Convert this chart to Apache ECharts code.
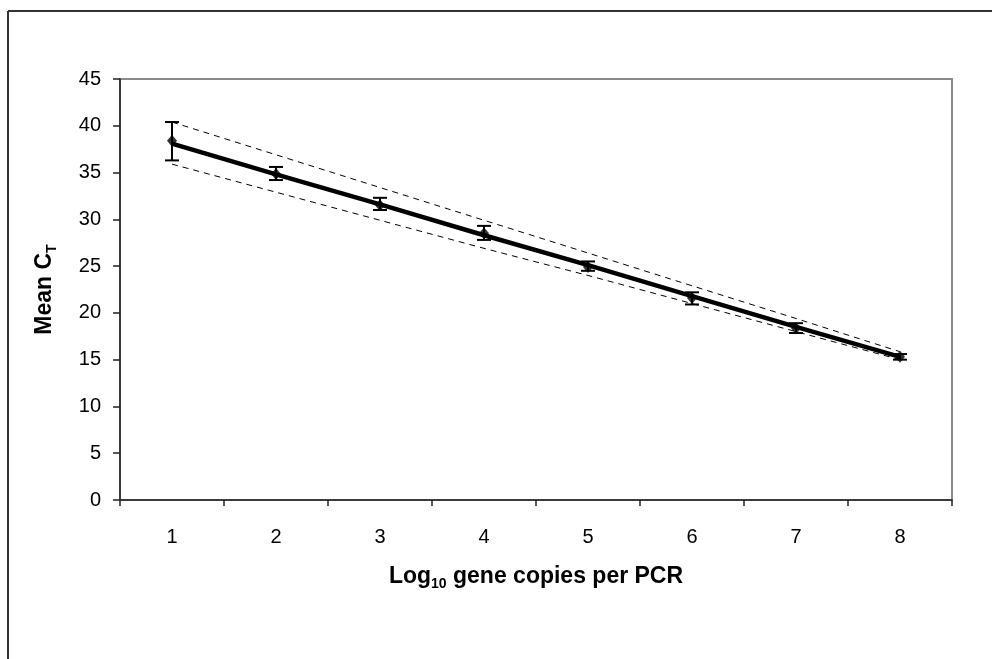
<!DOCTYPE html>
<html>
<head>
<meta charset="utf-8">
<title>Mean CT standard curve</title>
<script src="https://cdn.jsdelivr.net/npm/echarts@6/dist/echarts.min.js"></script>
<style>
  html, body { margin: 0; padding: 0; background: #fff; }
  #chart { width: 992px; height: 659px; }
</style>
</head>
<body>
<div id="chart"></div>
<script>
// data
var categories = ["1", "2", "3", "4", "5", "6", "7", "8"];
var yTicks = [0, 5, 10, 15, 20, 25, 30, 35, 40, 45];
// mean CT per dilution (diamond markers)
var meanCt = [38.4, 34.85, 31.5, 28.5, 24.9, 21.6, 18.35, 15.3];
// error bar ends
var errLow = [36.3, 34.2, 31.0, 27.8, 24.5, 20.9, 17.85, 15.0];
var errHigh = [40.4, 35.6, 32.3, 29.3, 25.5, 22.2, 18.9, 15.6];
// thick fitted line
var fitLine = [38.1, 34.8, 31.6, 28.3, 25.1, 21.8, 18.5, 15.3];
// dashed upper / lower bounds
var upperBound = [40.4, 36.9, 33.4, 29.9, 26.4, 22.9, 19.4, 15.85];
var lowerBound = [35.9, 32.9, 29.9, 26.9, 24.0, 21.0, 18.0, 15.0];

(function () {
  // 1. init
  var myChart = echarts.init(document.getElementById("chart"));
  var font = "Liberation Sans";

  // error bar data: [index, low, high]
  var errData = categories.map(function (c, i) {
    return [i, errLow[i], errHigh[i]];
  });

  // rich styles for titles with a subscript
  var titleRich = {
    m: { fontFamily: font, fontSize: 23, fontWeight: "bold", color: "#000", lineHeight: 28, verticalAlign: "middle" },
    s: { fontFamily: font, fontSize: 14, fontWeight: "bold", color: "#000", lineHeight: 28, verticalAlign: "bottom" }
  };

  // 2. option
  var option = {
    backgroundColor: "#fff",
    animation: false,
    textStyle: { fontFamily: font },
    grid: {
      left: 120,
      top: 79,
      right: 40,
      bottom: 159,
      show: true,
      borderColor: "#8a8a8a",
      borderWidth: 2
    },
    // outer frame (open on the right and bottom)
    graphic: [
      { type: "line", shape: { x1: 8, y1: 11, x2: 992, y2: 11 }, style: { stroke: "#333", lineWidth: 2 } },
      { type: "line", shape: { x1: 8, y1: 11, x2: 8, y2: 659 }, style: { stroke: "#333", lineWidth: 2 } }
    ],
    xAxis: {
      type: "category",
      data: categories,
      boundaryGap: true,
      name: "{m|Log}{s|10}{m| gene copies per PCR}",
      nameLocation: "middle",
      nameGap: 63,
      nameTextStyle: { rich: titleRich },
      axisLine: { show: true, lineStyle: { color: "#222", width: 1.5 } },
      axisTick: { show: true, inside: false, length: 6, alignWithLabel: false, lineStyle: { color: "#222", width: 1.5 } },
      axisLabel: { color: "#000", fontSize: 20, margin: 27, fontFamily: font },
      splitLine: { show: false }
    },
    yAxis: {
      type: "value",
      min: yTicks[0],
      max: yTicks[yTicks.length - 1],
      interval: 5,
      name: "{m|Mean C}{s|T}",
      nameLocation: "middle",
      nameGap: 61,
      nameRotate: 90,
      nameTextStyle: { rich: titleRich },
      axisLine: { show: true, lineStyle: { color: "#222", width: 1.5 } },
      axisTick: { show: true, inside: false, length: 7, lineStyle: { color: "#222", width: 1.5 } },
      axisLabel: { color: "#000", fontSize: 20, margin: 19, fontFamily: font },
      splitLine: { show: false }
    },
    series: [
      {
        // upper dashed bound
        name: "upper",
        type: "line",
        data: upperBound,
        symbol: "none",
        z: 2,
        lineStyle: { color: "#000", width: 1, type: [6, 5] }
      },
      {
        // lower dashed bound
        name: "lower",
        type: "line",
        data: lowerBound,
        symbol: "none",
        z: 2,
        lineStyle: { color: "#000", width: 1, type: [6, 5] }
      },
      {
        // fitted line
        name: "fit",
        type: "line",
        data: fitLine,
        symbol: "none",
        z: 3,
        lineStyle: { color: "#000", width: 4.5 }
      },
      {
        // error bars
        name: "error",
        type: "custom",
        data: errData,
        encode: { x: 0, y: [1, 2] },
        z: 4,
        renderItem: function (params, api) {
          var lo = api.coord([api.value(0), api.value(1)]);
          var hi = api.coord([api.value(0), api.value(2)]);
          var half = 7;
          var st = { stroke: "#000", lineWidth: 2 };
          return {
            type: "group",
            children: [
              { type: "line", shape: { x1: hi[0], y1: hi[1], x2: lo[0], y2: lo[1] }, style: st },
              { type: "line", shape: { x1: hi[0] - half, y1: hi[1], x2: hi[0] + half, y2: hi[1] }, style: st },
              { type: "line", shape: { x1: lo[0] - half, y1: lo[1], x2: lo[0] + half, y2: lo[1] }, style: st }
            ]
          };
        }
      },
      {
        // mean markers
        name: "Mean CT",
        type: "scatter",
        data: meanCt,
        symbol: "diamond",
        symbolSize: [10, 12],
        z: 5,
        itemStyle: { color: "#000" }
      }
    ]
  };

  // 3. render
  myChart.setOption(option);

  // 4. resize
  window.addEventListener("resize", function () {
    myChart.resize();
  });
})();
</script>
</body>
</html>
